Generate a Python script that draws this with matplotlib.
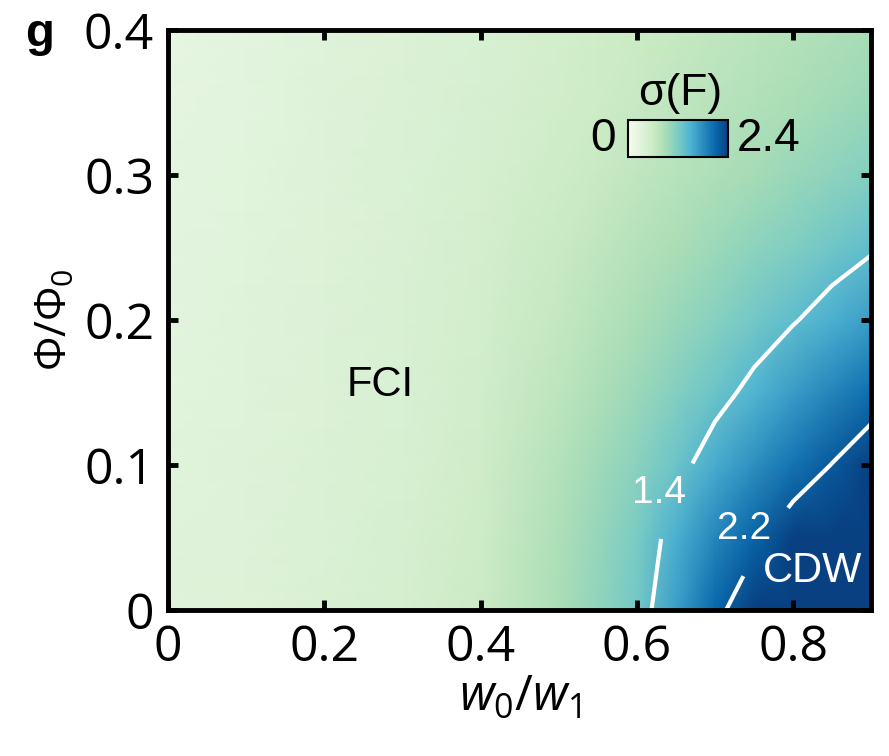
import numpy as np
import matplotlib
matplotlib.use("Agg")
import matplotlib.pyplot as plt

# grid
w_ratio = [0.0, 0.1, 0.2, 0.3, 0.4, 0.5, 0.55, 0.6, 0.65, 0.7, 0.75, 0.8, 0.85, 0.9]
flux = [0.0, 0.05, 0.1, 0.15, 0.2, 0.25, 0.3, 0.35, 0.4]

# sigma(F), one row per flux value
row_000 = [0.32, 0.35, 0.40, 0.46, 0.60, 0.88, 1.05, 1.25, 1.65, 2.10, 2.45, 2.70, 2.90, 3.00]
row_005 = [0.31, 0.34, 0.39, 0.45, 0.58, 0.85, 1.02, 1.20, 1.52, 1.85, 2.12, 2.40, 2.60, 2.75]
row_010 = [0.30, 0.33, 0.38, 0.43, 0.55, 0.80, 0.95, 1.10, 1.30, 1.55, 1.78, 2.00, 2.21, 2.40]
row_015 = [0.29, 0.32, 0.37, 0.42, 0.52, 0.73, 0.85, 0.99, 1.14, 1.30, 1.48, 1.67, 1.86, 2.05]
row_020 = [0.28, 0.31, 0.36, 0.41, 0.50, 0.67, 0.77, 0.89, 1.00, 1.12, 1.25, 1.38, 1.52, 1.66]
row_025 = [0.27, 0.30, 0.35, 0.40, 0.48, 0.62, 0.70, 0.79, 0.88, 0.98, 1.08, 1.17, 1.27, 1.37]
row_030 = [0.25, 0.29, 0.34, 0.39, 0.46, 0.57, 0.63, 0.70, 0.78, 0.85, 0.92, 1.00, 1.07, 1.14]
row_035 = [0.24, 0.28, 0.33, 0.38, 0.44, 0.53, 0.58, 0.64, 0.70, 0.76, 0.82, 0.88, 0.94, 1.00]
row_040 = [0.22, 0.27, 0.32, 0.37, 0.42, 0.50, 0.55, 0.60, 0.65, 0.70, 0.75, 0.80, 0.85, 0.90]

contour_levels = [1.4, 2.2]
x_ticks = [0, 0.2, 0.4, 0.6, 0.8]
y_ticks = [0, 0.1, 0.2, 0.3, 0.4]
VMIN = 0
VMAX = 2.4

TICK_FONT = "Open Sans"
TEXT_FONT = "Liberation Sans"


def main():
    plt.rcParams["mathtext.fontset"] = "custom"
    plt.rcParams["mathtext.rm"] = "Open Sans"
    plt.rcParams["mathtext.it"] = "Open Sans:italic"

    sigma = np.array([row_000, row_005, row_010, row_015, row_020,
                      row_025, row_030, row_035, row_040])
    X, Y = np.meshgrid(w_ratio, flux)

    fig = plt.figure(figsize=(8.89, 7.56), dpi=100)
    ax = fig.add_axes([0.189, 0.193, 0.791, 0.767])

    mesh = ax.pcolormesh(X, Y, sigma, cmap="GnBu", vmin=VMIN, vmax=VMAX,
                         shading="gouraud")

    cs = ax.contour(X, Y, sigma, levels=contour_levels, colors="white",
                    linewidths=3)
    labels = ax.clabel(cs, fmt="%.1f", fontsize=28, inline=True,
                       inline_spacing=10,
                       manual=[(0.652, 0.075), (0.762, 0.048)])
    label_pos = {"1.4": (0.628, 0.081), "2.2": (0.737, 0.056)}
    for t in labels:
        t.set_rotation(0)
        t.set_fontfamily(TEXT_FONT)
        t.set_position(label_pos[t.get_text()])
        t.set_ha("center")
        t.set_va("center")

    ax.text(0.272, 0.155, "FCI", fontsize=30, family=TEXT_FONT,
            ha="center", va="center", color="black")
    ax.text(0.825, 0.027, "CDW", fontsize=30, family=TEXT_FONT,
            ha="center", va="center", color="white")

    ax.set_xlim(0, 0.9)
    ax.set_ylim(0, 0.4)
    ax.set_xticks(x_ticks)
    ax.set_yticks(y_ticks)
    ax.set_xticklabels(["0" if v == 0 else "{:g}".format(v) for v in x_ticks])
    ax.set_yticklabels(["0" if v == 0 else "{:g}".format(v) for v in y_ticks])
    ax.tick_params(direction="in", length=7, width=3.5, top=True, right=True,
                   labelsize=36, pad=10)
    for lab in ax.get_xticklabels() + ax.get_yticklabels():
        lab.set_fontfamily(TICK_FONT)
    for sp in ax.spines.values():
        sp.set_linewidth(3.5)

    ax.set_xlabel(r"$w_0/w_1$", fontsize=35, labelpad=0)
    ax.set_ylabel(r"$\Phi/\Phi_0$", fontsize=31, labelpad=6)

    fig.text(0.028, 0.955, "g", fontsize=34, fontweight="bold",
             family=TEXT_FONT, ha="left", va="center")

    # inset colour bar
    cax = fig.add_axes([628 / 889, 1 - 157 / 756, 100 / 889, 37 / 756])
    cb = fig.colorbar(mesh, cax=cax, orientation="horizontal", ticks=[])
    cb.outline.set_linewidth(1.5)
    fig.text(603 / 889, 1 - 139 / 756, "0", fontsize=33, family=TEXT_FONT,
             ha="center", va="center")
    fig.text(769 / 889, 1 - 139 / 756, "2.4", fontsize=33, family=TEXT_FONT,
             ha="center", va="center")
    fig.text(680 / 889, 1 - 94 / 756, "σ(F)", fontsize=32, family=TEXT_FONT,
             ha="center", va="center")

    fig.savefig("out.png", dpi=100)


if __name__ == '__main__':
    main()
